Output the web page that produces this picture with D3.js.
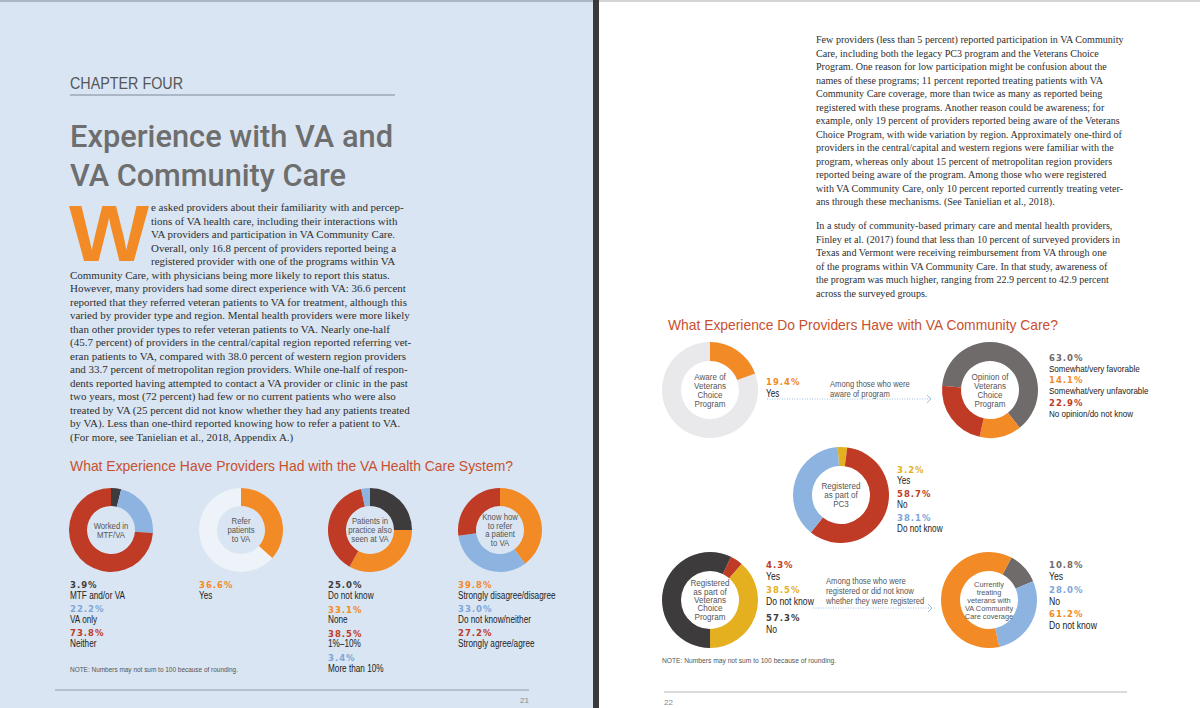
<!DOCTYPE html>
<html><head><meta charset="utf-8">
<script src="https://cdn.jsdelivr.net/npm/d3@7"></script>
<style>
html,body{margin:0;padding:0;background:#fff;}
svg{display:block;}
</style></head><body>
<svg id="c" width="1200" height="708"></svg>
<script>
// ---------------- DATA ----------------
const workedLabels = ["MTF and/or VA", "VA only", "Neither"];
const workedValues = [3.9, 22.2, 73.8];
const referLabels = ["Yes"];
const referValues = [36.6];
const patientsLabels = ["Do not know", "None", "1%–10%", "More than 10%"];
const patientsValues = [25.0, 33.1, 38.5, 3.4];
const knowLabels = ["Strongly disagree/disagree", "Do not know/neither", "Strongly agree/agree"];
const knowValues = [39.8, 33.0, 27.2];

const awareLabels = ["Yes"];
const awareValues = [19.4];
const opinionLabels = ["Somewhat/very favorable", "Somewhat/very unfavorable", "No opinion/do not know"];
const opinionValues = [63.0, 14.1, 22.9];
const pc3Labels = ["Yes", "No", "Do not know"];
const pc3Values = [3.2, 58.7, 38.1];
const vcpLabels = ["Yes", "Do not know", "No"];
const vcpValues = [4.3, 38.5, 57.3];
const treatLabels = ["Yes", "No", "Do not know"];
const treatValues = [10.8, 28.0, 61.2];

const donutTitles = {
  worked: ["Worked in", "MTF/VA"],
  refer: ["Refer", "patients", "to VA"],
  patients: ["Patients in", "practice also", "seen at VA"],
  know: ["Know how", "to refer", "a patient", "to VA"],
  aware: ["Aware of", "Veterans", "Choice", "Program"],
  opinion: ["Opinion of", "Veterans", "Choice", "Program"],
  pc3: ["Registered", "as part of", "PC3"],
  vcp: ["Registered", "as part of", "Veterans", "Choice", "Program"],
  treat: ["Currently", "treating", "veterans with", "VA Community", "Care coverage"]
};

const chapterLabel = "CHAPTER FOUR";
const pageTitle = ["Experience with VA and", "VA Community Care"];
const leftChartTitle = "What Experience Have Providers Had with the VA Health Care System?";
const rightChartTitle = "What Experience Do Providers Have with VA Community Care?";
const noteText = "NOTE: Numbers may not sum to 100 because of rounding.";
const arrowText1 = ["Among those who were", "aware of program"];
const arrowText2 = ["Among those who were", "registered or did not know", "whether they were registered"];
const pageNumbers = ["21", "22"];

const leftBody = [
  "e asked providers about their familiarity with and percep-",
  "tions of VA health care, including their interactions with",
  "VA providers and participation in VA Community Care.",
  "Overall, only 16.8 percent of providers reported being a",
  "registered provider with one of the programs within VA",
  "Community Care, with physicians being more likely to report this status.",
  "However, many providers had some direct experience with VA: 36.6 percent",
  "reported that they referred veteran patients to VA for treatment, although this",
  "varied by provider type and region. Mental health providers were more likely",
  "than other provider types to refer veteran patients to VA. Nearly one-half",
  "(45.7 percent) of providers in the central/capital region reported referring vet-",
  "eran patients to VA, compared with 38.0 percent of western region providers",
  "and 33.7 percent of metropolitan region providers. While one-half of respon-",
  "dents reported having attempted to contact a VA provider or clinic in the past",
  "two years, most (72 percent) had few or no current patients who were also",
  "treated by VA (25 percent did not know whether they had any patients treated",
  "by VA). Less than one-third reported knowing how to refer a patient to VA.",
  "(For more, see Tanielian et al., 2018, Appendix A.)"
];
const rightBody = [
  "Few providers (less than 5 percent) reported participation in VA Community",
  "Care, including both the legacy PC3 program and the Veterans Choice",
  "Program. One reason for low participation might be confusion about the",
  "names of these programs; 11 percent reported treating patients with VA",
  "Community Care coverage, more than twice as many as reported being",
  "registered with these programs. Another reason could be awareness; for",
  "example, only 19 percent of providers reported being aware of the Veterans",
  "Choice Program, with wide variation by region. Approximately one-third of",
  "providers in the central/capital and western regions were familiar with the",
  "program, whereas only about 15 percent of metropolitan region providers",
  "reported being aware of the program. Among those who were registered",
  "with VA Community Care, only 10 percent reported currently treating veter-",
  "ans through these mechanisms. (See Tanielian et al., 2018).",
  "In a study of community-based primary care and mental health providers,",
  "Finley et al. (2017) found that less than 10 percent of surveyed providers in",
  "Texas and Vermont were receiving reimbursement from VA through one",
  "of the programs within VA Community Care. In that study, awareness of",
  "the program was much higher, ranging from 22.9 percent to 42.9 percent",
  "across the surveyed groups."
];

// ---------------- STYLE ----------------
const C = {
  red: "#bf3b25", orange: "#f28a26", blue: "#8db4e1", blueText: "#7ea5d8",
  dark: "#3d3b3b", gold: "#e5b01f", warm: "#6f6b6a",
  titleRed: "#c8502f", text: "#333", innerText: "#555"
};
const NARROW = "'Liberation Sans Narrow','Arial Narrow',sans-serif";
const SANS = "'Liberation Sans',Arial,sans-serif";
const SERIF = "'Liberation Serif','Times New Roman',serif";
const PCT = "'DejaVu Sans',sans-serif";

const narrowOK = (function () {
  const c = document.createElement("canvas").getContext("2d");
  c.font = "20px 'Liberation Sans Narrow'"; const a = c.measureText("Somewhat unfavorable").width;
  c.font = "20px 'Liberation Sans'"; const b = c.measureText("Somewhat unfavorable").width;
  return a / b < 0.9;
})();
function condense(sel, k) {
  const f = k || 0.82;
  if (narrowOK && !k) return;
  sel.each(function () {
    const w = this.getComputedTextLength();
    d3.select(this).attr("textLength", w * f).attr("lengthAdjust", "spacingAndGlyphs");
  });
}
function fitWidth(sel, w) {
  sel.attr("textLength", w).attr("lengthAdjust", "spacingAndGlyphs");
}

const svg = d3.select("#c");

// ---------------- PAGES ----------------
svg.append("rect").attr("x", 0).attr("y", 0).attr("width", 594).attr("height", 708).attr("fill", "#d9e5f2");
svg.append("rect").attr("x", 599).attr("y", 0).attr("width", 601).attr("height", 708).attr("fill", "#ffffff");
svg.append("rect").attr("x", 593).attr("y", 0).attr("width", 6).attr("height", 708).attr("fill", "#3a3a3a");
svg.append("rect").attr("x", 0).attr("y", 0).attr("width", 593).attr("height", 2).attr("fill", "#aab6c5");
svg.append("rect").attr("x", 599).attr("y", 0).attr("width", 601).attr("height", 2).attr("fill", "#d4d4d4");

// chapter heading
svg.append("text").attr("x", 70).attr("y", 89).text(chapterLabel)
  .attr("font-family", SANS).attr("font-size", 16).attr("fill", "#555")
  .call(fitWidth, 113);
svg.append("line").attr("x1", 70).attr("x2", 395).attr("y1", 95).attr("y2", 95)
  .attr("stroke", "#7d8896").attr("stroke-width", 1);
pageTitle.forEach((t, i) => {
  svg.append("text").attr("x", 70).attr("y", 147 + i * 39).text(t)
    .attr("font-family", "Roboto,'Liberation Sans',sans-serif").attr("font-weight", 500)
    .attr("font-size", 31).attr("fill", "#6e6e6e")
    .call(fitWidth, i === 0 ? 323 : 276);
});

// drop cap
svg.append("text").attr("x", 69).attr("y", 261).text("W")
  .attr("font-family", SANS).attr("font-weight", "bold").attr("font-size", 80)
  .attr("fill", C.orange).call(fitWidth, 80);

// body text
function body(lines, xFn, yFn, refIdx, refW) {
  const g = svg.append("g").attr("font-family", SERIF).attr("fill", "#2f2f2f");
  const ts = g.selectAll("text").data(lines).join("text")
    .attr("x", (d, i) => xFn(i)).attr("y", (d, i) => yFn(i)).attr("font-size", 10).text(d => d);
  const w = ts.nodes()[refIdx].getComputedTextLength();
  ts.attr("font-size", 10 * refW / w);
}
body(leftBody, i => (i < 5 ? 151 : 70), i => 211 + i * 13.5, 5, 320);
body(rightBody, () => 816, i => (i < 13 ? 43 + i * 13.5 : 229 + (i - 13) * 13.5), 0, 308);

// chart titles
svg.append("text").attr("x", 70).attr("y", 471).text(leftChartTitle)
  .attr("font-family", SANS).attr("font-size", 15).attr("fill", C.titleRed).call(fitWidth, 443);
svg.append("text").attr("x", 668).attr("y", 330).text(rightChartTitle)
  .attr("font-family", SANS).attr("font-size", 15).attr("fill", C.titleRed).call(fitWidth, 390);

// ---------------- DONUTS ----------------
const fmt = d3.format(".1f");
function donut(s) {
  const total = s.base ? 100 : d3.sum(s.values);
  const ang = d3.scaleLinear().domain([0, total]).range([0, 2 * Math.PI]);
  const off = (s.start || 0) * Math.PI / 180;
  const cum = d3.cumsum(s.values);
  const arc = d3.arc().innerRadius(s.r0).outerRadius(s.r1);
  const g = svg.append("g").attr("transform", `translate(${s.cx},${s.cy})`);
  if (s.base) g.append("path").attr("d", arc({ startAngle: 0, endAngle: 2 * Math.PI })).attr("fill", s.base);
  g.selectAll("path.seg").data(s.values).join("path").attr("class", "seg")
    .attr("d", (v, i) => arc({ startAngle: off + ang(cum[i] - v), endAngle: off + ang(cum[i]) }))
    .attr("fill", (v, i) => s.colors[i]);
  const n = s.title.length;
  g.selectAll("text.in").data(s.title).join("text").attr("class", "in")
    .attr("text-anchor", "middle").attr("x", 0)
    .attr("y", (d, i) => (i - (n - 1) / 2) * s.step + 3)
    .attr("font-family", SANS).attr("font-size", s.fs).attr("fill", C.innerText).text(d => d)
    .call(condense, s.ck);
  // legend
  const lg = svg.append("g");
  s.values.forEach((v, i) => {
    lg.append("text").attr("x", s.lx).attr("y", s.py[i]).text(fmt(v) + "%")
      .attr("font-family", PCT).attr("font-weight", "bold").attr("font-size", 8.5)
      .attr("letter-spacing", 1).attr("fill", s.textColors ? s.textColors[i] : s.colors[i]);
    lg.append("text").attr("x", s.lx).attr("y", s.py[i] + s.dy).text(s.labels[i])
      .attr("font-family", NARROW).attr("font-size", s.lfs).attr("fill", "#222")
      .call(condense);
  });
}

const L = { r0: 24, r1: 42, step: 9, fs: 9, ck: 0.86, dy: 10.5, lfs: 10 };
donut({ ...L, values: workedValues, labels: workedLabels, title: donutTitles.worked,
  cx: 111, cy: 530, colors: [C.dark, C.blue, C.red], textColors: [C.dark, C.blueText, C.red],
  lx: 70, py: [588, 612, 636] });
donut({ ...L, values: referValues, labels: referLabels, title: donutTitles.refer,
  cx: 241, cy: 530, colors: [C.orange], base: "#eef3f9",
  lx: 199, py: [588] });
donut({ ...L, values: patientsValues, labels: patientsLabels, title: donutTitles.patients,
  cx: 370, cy: 530, colors: [C.dark, C.orange, C.red, C.blue], textColors: [C.dark, C.orange, C.red, C.blueText],
  lx: 328, py: [588, 612.5, 636.5, 661] });
donut({ ...L, values: knowValues, labels: knowLabels, title: donutTitles.know, step: 8.6,
  cx: 500, cy: 530, colors: [C.orange, C.blue, C.red], textColors: [C.orange, C.blueText, C.red],
  lx: 458, py: [588, 612, 636] });

const R = { r0: 29, r1: 48, step: 9, fs: 8.5, ck: 0.95, dy: 11.5, lfs: 10 };
donut({ ...R, values: awareValues, labels: awareLabels, title: donutTitles.aware,
  cx: 710, cy: 390, colors: [C.orange], base: "#e9e9eb",
  lx: 766, py: [385] });
donut({ ...R, values: opinionValues, labels: opinionLabels, title: donutTitles.opinion,
  cx: 990, cy: 390, start: -85, colors: [C.warm, C.orange, C.red],
  lx: 1049, py: [361, 383, 406], dy: 11, lfs: 9.8 });
donut({ ...R, values: pc3Values, labels: pc3Labels, title: donutTitles.pc3,
  cx: 841, cy: 495, start: -4, colors: [C.gold, C.red, C.blue], textColors: [C.gold, C.red, C.blueText],
  lx: 897, py: [473, 497, 521], dy: 11 });
donut({ ...R, values: vcpValues, labels: vcpLabels, title: donutTitles.vcp,
  cx: 710, cy: 600, start: 26, step: 8.4, colors: [C.red, C.gold, C.dark],
  lx: 766, py: [568, 593, 621], dy: 12, lfs: 10.5 });
donut({ ...R, values: treatValues, labels: treatLabels, title: donutTitles.treat,
  cx: 989, cy: 600, start: 28, step: 8, fs: 8, ck: 0.92, colors: [C.warm, C.blue, C.orange], textColors: [C.warm, C.blueText, C.orange],
  lx: 1049, py: [568, 593, 617], dy: 12, lfs: 10.5 });

// arrows
function arrow(x1, x2, y, lines, tx, ty) {
  svg.append("line").attr("x1", x1).attr("x2", x2).attr("y1", y).attr("y2", y)
    .attr("stroke", "#9cc0e4").attr("stroke-width", 1).attr("stroke-dasharray", "1,1.5");
  svg.append("path").attr("d", `M${x2 - 3},${y - 4} L${x2 + 1},${y} L${x2 - 3},${y + 4}`)
    .attr("fill", "none").attr("stroke", "#9cc0e4").attr("stroke-width", 1);
  lines.forEach((t, i) => {
    svg.append("text").attr("x", tx).attr("y", ty + i * 10).text(t)
      .attr("font-family", NARROW).attr("font-size", 9.3).attr("fill", "#555").call(condense);
  });
}
arrow(767, 930, 399, arrowText1, 830, 387);
arrow(813, 931, 608, arrowText2, 826, 584);

// notes
svg.append("text").attr("x", 70).attr("y", 672).text(noteText)
  .attr("font-family", SANS).attr("font-size", 6.8).attr("fill", "#555").call(fitWidth, 168);
svg.append("text").attr("x", 662).attr("y", 663).text(noteText)
  .attr("font-family", SANS).attr("font-size", 6.8).attr("fill", "#555").call(fitWidth, 174);

// footers
svg.append("line").attr("x1", 55).attr("x2", 529).attr("y1", 690).attr("y2", 690)
  .attr("stroke", "#8f9aa8").attr("stroke-width", 1);
svg.append("line").attr("x1", 664).attr("x2", 1127).attr("y1", 692).attr("y2", 692)
  .attr("stroke", "#b5b5b5").attr("stroke-width", 1);
svg.append("text").attr("x", 520).attr("y", 703).text(pageNumbers[0])
  .attr("font-family", SANS).attr("font-size", 8).attr("fill", "#888");
svg.append("text").attr("x", 664).attr("y", 705).text(pageNumbers[1])
  .attr("font-family", SANS).attr("font-size", 8).attr("fill", "#888");
</script>
</body></html>
